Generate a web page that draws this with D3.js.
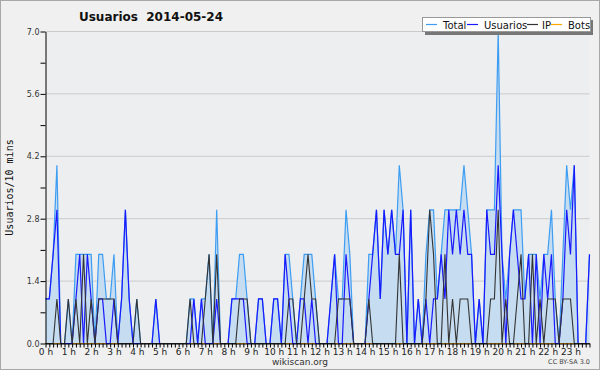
<!DOCTYPE html>
<html>
<head>
<meta charset="utf-8">
<script src="https://cdn.jsdelivr.net/npm/d3@7"></script>
<style>
  body { margin: 0; background: #f0f0f0; }
  #chart { width: 600px; height: 370px; }
  text { font-family: "DejaVu Sans", Verdana, sans-serif; }
</style>
</head>
<body>
<div id="chart"></div>
<script>
const hourLabels = ["0 h", "1 h", "2 h", "3 h", "4 h", "5 h", "6 h", "7 h", "8 h", "9 h", "10 h", "11 h",
  "12 h", "13 h", "14 h", "15 h", "16 h", "17 h", "18 h", "19 h", "20 h", "21 h", "22 h", "23 h"];

// one value per 10 minutes, 144 per day
const total = [
  1,1,2,4,0,0, 1,0,2,2,2,2, 2,0,2,2,1,1, 2,0,1,3,1,0, 1,0,0,0,0,1, 0,0,0,0,0,0,
  0,0,1,1,0,1, 1,2,0,3,0,0, 0,1,1,2,2,1, 0,0,1,1,0,0, 1,1,0,2,2,1, 0,1,2,2,2,1,
  0,0,0,1,2,1, 1,3,2,0,0,0, 0,2,2,3,1,3, 2,3,2,4,3,0, 3,0,1,0,2,3, 3,1,2,3,3,3,
  3,3,4,3,2,0, 1,0,3,3,3,7, 2,1,2,3,3,3, 1,2,2,2,1,2, 2,3,1,0,2,4, 3,4,0,0,0,2];
const usuarios = [
  1,1,2,3,0,0, 0,0,1,2,0,2, 1,0,1,1,0,0, 1,0,1,3,1,0, 0,0,0,0,0,1, 0,0,0,0,0,0,
  0,0,0,1,0,1, 0,0,0,1,0,0, 0,1,1,1,1,0, 0,0,1,1,0,0, 1,1,0,2,1,0, 0,1,1,0,1,0,
  0,0,0,1,2,0, 0,2,1,0,0,0, 0,1,2,3,1,3, 2,3,2,2,3,0, 3,0,1,0,1,0, 1,1,2,1,3,2,
  3,2,3,2,2,0, 1,0,3,2,2,4, 2,0,2,3,2,1, 1,2,0,2,0,2, 1,2,0,0,1,3, 2,4,0,0,0,2];
const ip = [
  0,0,0,1,0,0, 1,0,1,0,2,0, 1,0,1,1,1,1, 1,0,0,0,0,0, 1,0,0,0,0,0, 0,0,0,0,0,0,
  0,0,1,0,0,0, 1,2,0,2,0,0, 0,0,0,1,1,1, 0,0,0,0,0,0, 0,0,0,0,1,1, 0,0,1,2,1,1,
  0,0,0,0,0,1, 1,1,1,0,0,0, 0,1,0,0,0,0, 0,0,0,2,0,0, 0,0,0,0,1,3, 2,0,0,2,0,1,
  0,1,1,1,0,0, 0,0,0,1,1,3, 0,1,0,0,1,2, 0,0,2,0,1,0, 1,1,1,0,1,1, 1,0,0,0,0,0];
const bots = [
  0,0,0,0,0,0, 0,0,0,0,0,0, 0,0,0,0,0,0, 0,0,0,0,0,0, 0,0,0,0,0,0, 0,0,0,0,0,0,
  0,0,0,0,0,0, 0,0,0,0,0,0, 0,0,0,0,0,0, 0,0,0,0,0,0, 0,0,0,0,0,0, 0,0,0,0,0,0,
  0,0,0,0,0,0, 0,0,0,0,0,0, 0,0,0,0,0,0, 0,0,0,0,0,0, 0,0,0,0,0,0, 0,0,0,0,0,0,
  0,0,0,0,0,0, 0,0,0,0,0,0, 0,0,0,0,0,0, 0,0,0,0,0,0, 0,0,0,0,0,0, 0,0,0,0,0,0];

const yTicks = [0, 0.7, 1.4, 2.1, 2.8, 3.5, 4.2, 4.9, 5.6, 6.3, 7.0];
const yLabelled = [0, 1.4, 2.8, 4.2, 5.6, 7.0];

const seriesList = [
  {name: "Total", values: total, color: "#3d9df2"},
  {name: "Usuarios", values: usuarios, color: "#1a1aff"},
  {name: "IP", values: ip, color: "#333333"},
  {name: "Bots", values: bots, color: "#ffa500"}
];

const width = 600, height = 370;
const plotLeft = 45.5, plotRight = 589.5, plotTop = 31.5, plotBottom = 343.5;

const svg = d3.select("#chart").append("svg")
  .attr("width", width)
  .attr("height", height);

svg.append("rect")
  .attr("x", 0.5).attr("y", 0.5)
  .attr("width", width - 1).attr("height", height - 1)
  .attr("fill", "#f0f0f0")
  .attr("stroke", "#a8a8a8");

svg.append("rect")
  .attr("x", plotLeft).attr("y", plotTop)
  .attr("width", plotRight - plotLeft).attr("height", plotBottom - plotTop)
  .attr("fill", "#edeef0");

const xScale = d3.scaleLinear().domain([0, total.length - 1]).range([plotLeft, plotRight]);
const yScale = d3.scaleLinear().domain([0, 7]).range([plotBottom, plotTop]);

// grid
svg.append("g")
  .selectAll("line")
  .data(yLabelled.filter((v) => v > 0))
  .enter()
  .append("line")
  .attr("x1", plotLeft).attr("x2", plotRight)
  .attr("y1", (d) => yScale(d)).attr("y2", (d) => yScale(d))
  .attr("stroke", "#cbcbcb");

// total area
svg.append("path")
  .datum(total)
  .attr("fill", "#c6dcf0")
  .attr("d", d3.area()
    .x((d, i) => xScale(i))
    .y0(yScale(0))
    .y1((d) => yScale(d)));

const line = d3.line()
  .x((d, i) => xScale(i))
  .y((d) => yScale(d));

[seriesList[3], seriesList[0], seriesList[1], seriesList[2]].forEach((s) => {
  svg.append("path")
    .datum(s.values)
    .attr("fill", "none")
    .attr("stroke", s.color)
    .attr("stroke-width", s.name === "IP" ? 1.1 : 1.2)
    .attr("d", line);
});

// axes
const yAxis = d3.axisLeft(yScale)
  .tickValues(yTicks)
  .tickSize(5)
  .tickSizeOuter(0)
  .tickPadding(1)
  .tickFormat((d) => yLabelled.some((v) => Math.abs(v - d) < 1e-6) ? d.toFixed(1) : "");

svg.append("g")
  .attr("transform", "translate(" + plotLeft + ",0)")
  .call(yAxis)
  .call((g) => g.selectAll("text")
    .attr("font-family", "DejaVu Sans, sans-serif")
    .attr("font-size", 8)
    .attr("fill", "#333"))
  .call((g) => g.selectAll("line, path").attr("stroke", "#000"));

const xAxis = d3.axisBottom(xScale)
  .tickValues(d3.range(0, total.length))
  .tickSize(4)
  .tickSizeOuter(0)
  .tickPadding(1)
  .tickFormat((i) => i % 6 === 0 ? hourLabels[i / 6] : "");

svg.append("g")
  .attr("transform", "translate(0," + plotBottom + ")")
  .call(xAxis)
  .call((g) => g.selectAll("text")
    .attr("font-family", "DejaVu Sans, sans-serif")
    .attr("font-size", 9)
    .attr("fill", "#222"))
  .call((g) => g.selectAll("line, path").attr("stroke", "#000"));

// titles
svg.append("text")
  .attr("x", 151)
  .attr("y", 21)
  .attr("text-anchor", "middle")
  .attr("font-size", 12)
  .attr("font-weight", "bold")
  .attr("fill", "#111")
  .text("Usuarios\u00a0\u00a02014-05-24");

svg.append("text")
  .attr("transform", "translate(13," + ((plotTop + plotBottom) / 2) + ") rotate(-90)")
  .attr("text-anchor", "middle")
  .style("font-family", "DejaVu Sans Mono, monospace")
  .attr("font-size", 10)
  .attr("fill", "#111")
  .text("Usuarios/10 mins");

svg.append("text")
  .attr("x", 300)
  .attr("y", 365)
  .attr("text-anchor", "middle")
  .attr("font-size", 9)
  .attr("fill", "#333")
  .text("wikiscan.org");

svg.append("text")
  .attr("x", 590)
  .attr("y", 364)
  .attr("text-anchor", "end")
  .attr("font-size", 6.5)
  .attr("fill", "#444")
  .text("CC BY-SA 3.0");

// legend
const legend = svg.append("g").attr("transform", "translate(422,17)");
legend.append("rect")
  .attr("x", 3).attr("y", 3)
  .attr("width", 168).attr("height", 15)
  .attr("fill", "#777");
legend.append("rect")
  .attr("x", 0.5).attr("y", 0.5)
  .attr("width", 168).attr("height", 14)
  .attr("fill", "#fff")
  .attr("stroke", "#999");

const legendPos = [4, 45, 105, 129];
const legendText = [21, 62, 120, 146];
seriesList.forEach((s, i) => {
  legend.append("line")
    .attr("x1", legendPos[i]).attr("x2", legendPos[i] + 11)
    .attr("y1", 7.5).attr("y2", 7.5)
    .attr("stroke", s.color)
    .attr("stroke-width", 1.2);
  legend.append("text")
    .attr("x", legendText[i])
    .attr("y", 11.5)
    .attr("font-size", 10)
    .attr("fill", "#111")
    .text(s.name);
});
</script>
</body>
</html>
